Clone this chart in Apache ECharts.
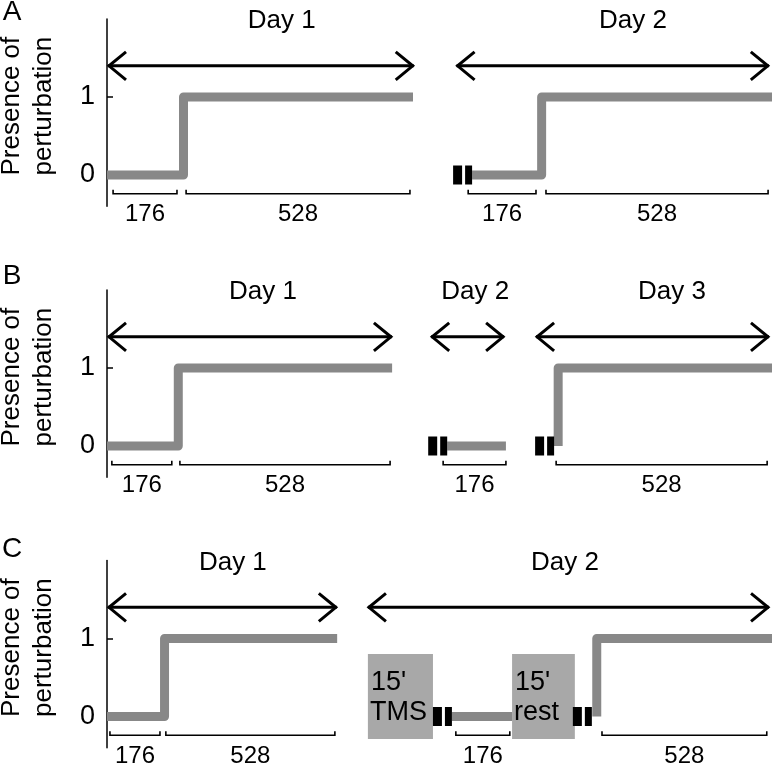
<!DOCTYPE html>
<html><head><meta charset="utf-8">
<script src="https://cdn.jsdelivr.net/npm/echarts@6/dist/echarts.min.js"></script>
<style>html,body{margin:0;padding:0;background:#fff}#c{width:772px;height:764px}</style>
</head><body><div id="c"></div>
<script>
// ---------------- data ----------------
const panelNames = ['A', 'B', 'C'];
const yTicks = [0, 1];
const yTickLabels = ['0', '1'];
const axisTitle = 'Presence of\nperturbation';
const xMax = [1530, 1642, 2034];           // trial-axis extent of each panel

// Panel A
const aSteps = [
  [[0, 0], [176, 0], [176, 1], [704, 1]],
  [[840, 0], [1000, 0], [1000, 1], [1530, 1]]
];
const aArrows = [[0, 708], [802, 1525]];
const aDays = [[402, 'Day 1'], [1210, 'Day 2']];
const aBrackets = [[14, 161, '176'], [182, 697, '528'], [831, 987, '176'], [1010, 1521, '528']];
const aBreaks = [840];
const aBoxes = [];

// Panel B
const bSteps = [
  [[0, 0], [176, 0], [176, 1], [704, 1]],
  [[840, 0], [985, 0]],
  [[1114, 0], [1114, 1], [1642, 1]]
];
const bArrows = [[0, 706], [798, 983], [1057, 1637]];
const bDays = [[385, 'Day 1'], [909, 'Day 2'], [1395, 'Day 3']];
const bBrackets = [[12, 160, '176'], [180, 699, '528'], [830, 985, '176'], [1109, 1630, '528']];
const bBreaks = [840, 1104];
const bBoxes = [];

// Panel C
const cSteps = [
  [[0, 0], [176, 0], [176, 1], [704, 1]],
  [[1055, 0], [1239, 0]],
  [[1498, 0], [1498, 1], [2034, 1]]
];
const cArrows = [[0, 706], [795, 2028]];
const cDays = [[385, 'Day 1'], [1401, 'Day 2']];
const cBrackets = [[9, 162, '176'], [180, 697, '528'], [1067, 1232, '176'], [1514, 2018, '528']];
const cBreaks = [1055, 1483];
const cBoxes = [[798, 997, "15'", 'TMS'], [1239, 1431, "15'", 'rest']];

// ---------------- rendering ----------------
const FONT = '"Liberation Sans", Arial, Helvetica, sans-serif';
const ARROW_Y = 1.40, DAY_Y = 1.975, BRACKET_Y = -0.24, BOX_TOP = 0.80, BOX_BOTTOM = -0.29;
const panels = [
  {steps: aSteps, arrows: aArrows, days: aDays, brackets: aBrackets, breaks: aBreaks, boxes: aBoxes},
  {steps: bSteps, arrows: bArrows, days: bDays, brackets: bBrackets, breaks: bBreaks, boxes: bBoxes},
  {steps: cSteps, arrows: cArrows, days: cDays, brackets: cBrackets, breaks: cBreaks, boxes: cBoxes}
];
const gridTops = [19, 290, 560.5];
const labelY = [12.5, 276, 549];

const grids = [], xAxes = [], yAxes = [], series = [];

function custom(i, arr, z, fn) {
  const items = arr.map(d => Array.isArray(d) ? d : [d]);
  return {
    type: 'custom', xAxisIndex: i, yAxisIndex: i, silent: true, clip: false, z: z,
    animation: false,
    data: items.map(d => [d[0], 0]),
    renderItem: (params, api) => fn(items[params.dataIndex], api)
  };
}

panels.forEach((p, i) => {
  grids.push({left: 107, right: 0, top: gridTops[i], height: 187.2, containLabel: false, outerBoundsMode: 'none'});
  xAxes.push({type: 'value', gridIndex: i, min: 0, max: xMax[i], show: false});
  yAxes.push({
    type: 'value', gridIndex: i, min: -0.4, max: 2.0,
    axisLine: {show: true, onZero: false, lineStyle: {color: '#000', width: 1.5}},
    axisTick: {show: true, inside: true, length: 6, customValues: yTicks, lineStyle: {color: '#000', width: 1.5}},
    axisLabel: {show: true, customValues: yTicks, formatter: v => yTickLabels[yTicks.indexOf(v)],
      fontSize: 27, color: '#000', margin: 12, fontFamily: FONT},
    splitLine: {show: false},
    name: axisTitle, nameLocation: 'middle', nameGap: 47, nameRotate: 90,
    nameTextStyle: {fontSize: 26, lineHeight: 32, color: '#000', fontFamily: FONT, padding: [0, 0, 0, 13]}
  });

  p.steps.forEach(s => series.push({
    type: 'line', xAxisIndex: i, yAxisIndex: i, data: s, symbol: 'none', silent: true,
    animation: false, z: 2,
    lineStyle: {color: '#888888', width: 9, cap: 'butt', join: 'round'}
  }));

  series.push(custom(i, p.boxes, 1, (d, api) => {
    const a = api.coord([d[0], BOX_TOP]), b = api.coord([d[1], BOX_BOTTOM]);
    return {type: 'group', children: [
      {type: 'rect', shape: {x: a[0], y: a[1], width: b[0] - a[0], height: b[1] - a[1]}, style: {fill: '#a8a8a8'}},
      {type: 'text', x: a[0] + 3, y: a[1] + 28, style: {text: d[2], fill: '#000', fontSize: 27, fontFamily: FONT, align: 'left', verticalAlign: 'middle'}},
      {type: 'text', x: a[0] + 2, y: a[1] + 58.5, style: {text: d[3], fill: '#000', fontSize: 27, fontFamily: FONT, align: 'left', verticalAlign: 'middle'}}
    ]};
  }));

  series.push(custom(i, p.arrows, 5, (d, api) => {
    const a = api.coord([d[0], ARROW_Y]), b = api.coord([d[1], ARROW_Y]);
    const y = a[1], hx = 19, hy = 14;
    const st = {stroke: '#000', lineWidth: 3, fill: null};
    return {type: 'group', children: [
      {type: 'line', shape: {x1: a[0] + 1, y1: y, x2: b[0] - 1, y2: y}, style: st},
      {type: 'polyline', shape: {points: [[a[0] + hx, y - hy], [a[0] + 2, y], [a[0] + hx, y + hy]]}, style: st},
      {type: 'polyline', shape: {points: [[b[0] - hx, y - hy], [b[0] - 2, y], [b[0] - hx, y + hy]]}, style: st}
    ]};
  }));

  series.push(custom(i, p.days, 5, (d, api) => {
    const a = api.coord([d[0], DAY_Y]);
    return {type: 'text', x: a[0], y: a[1], style: {text: d[1], fill: '#000', fontSize: 26, fontFamily: FONT, align: 'center', verticalAlign: 'middle'}};
  }));

  series.push(custom(i, p.brackets, 5, (d, api) => {
    const a = api.coord([d[0], BRACKET_Y]), b = api.coord([d[1], BRACKET_Y]);
    const y = a[1];
    return {type: 'group', children: [
      {type: 'polyline', shape: {points: [[a[0], y - 4], [a[0], y], [b[0], y], [b[0], y - 4]]}, style: {stroke: '#000', lineWidth: 1.6, fill: null}},
      {type: 'text', x: (a[0] + b[0]) / 2, y: y + 21, style: {text: d[2], fill: '#000', fontSize: 24, fontFamily: FONT, align: 'center', verticalAlign: 'middle'}}
    ]};
  }));

  series.push(custom(i, p.breaks, 6, (d, api) => {
    const a = api.coord([d[0], 0]);
    return {type: 'group', children: [
      {type: 'rect', shape: {x: a[0] - 19, y: a[1] - 9.5, width: 9, height: 19}, style: {fill: '#000'}},
      {type: 'rect', shape: {x: a[0] - 7, y: a[1] - 9.5, width: 7, height: 19}, style: {fill: '#000'}}
    ]};
  }));
});

const chart = echarts.init(document.getElementById('c'), null, {renderer: 'canvas'});
chart.setOption({
  animation: false,
  backgroundColor: '#fff',
  grid: grids, xAxis: xAxes, yAxis: yAxes, series: series,
  graphic: panelNames.map((n, i) => ({
    type: 'text', x: 12, y: labelY[i],
    style: {text: n, fill: '#000', fontSize: 28, fontFamily: FONT, align: 'center', verticalAlign: 'middle'}
  }))
});
</script></body></html>
